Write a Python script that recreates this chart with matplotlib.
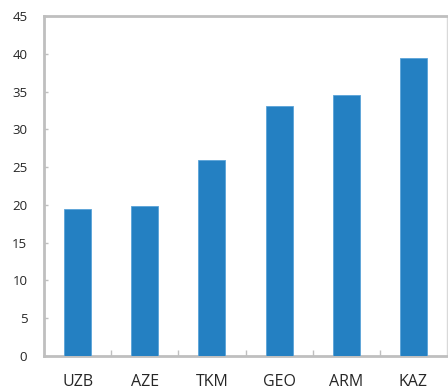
import matplotlib
matplotlib.use('Agg')
import matplotlib.pyplot as plt
import numpy as np

countries = ['UZB', 'AZE', 'TKM', 'GEO', 'ARM', 'KAZ']
values    = [19.4, 19.8, 26.0, 33.1, 34.5, 39.5]
y_ticks   = [0, 5, 10, 15, 20, 25, 30, 35, 40, 45]

BAR_COLOR  = '#2480c2'
AXIS_COLOR = '#bfbfbf'
TEXT_COLOR = '#262626'

plt.rcParams['font.family'] = ['Open Sans', 'DejaVu Sans']

fig = plt.figure(figsize=(4.48, 3.89), dpi=100)
ax = fig.add_axes([0.0982, 0.0848, 0.8996, 0.8741])

x = np.arange(len(countries))
ax.bar(x, values, width=0.4, color=BAR_COLOR, edgecolor='#5aa3d8',
       linewidth=0.6, zorder=3)

ax.set_xlim(-0.5, len(countries) - 0.5)
ax.set_ylim(0, 45)

ax.set_yticks(y_ticks)
ax.set_yticklabels([str(t) for t in y_ticks], fontsize=9.5, color=TEXT_COLOR)
ax.set_xticks(x)
ax.set_xticklabels(countries, fontsize=11.5, color=TEXT_COLOR)

# category separators drawn as minor ticks on the x axis
ax.set_xticks(x[:-1] + 0.5, minor=True)
ax.tick_params(axis='x', which='major', length=0, pad=13)
ax.tick_params(axis='x', which='minor', direction='in', length=4,
               width=1, color=AXIS_COLOR)
ax.tick_params(axis='y', direction='in', length=3, width=1,
               color=AXIS_COLOR, pad=12)

for side in ('left', 'bottom', 'top'):
    ax.spines[side].set_color(AXIS_COLOR)
    ax.spines[side].set_linewidth(2)
ax.spines['right'].set_color('#d9d9d9')
ax.spines['right'].set_linewidth(1)

fig.savefig('out.png', dpi=100, facecolor='white')
